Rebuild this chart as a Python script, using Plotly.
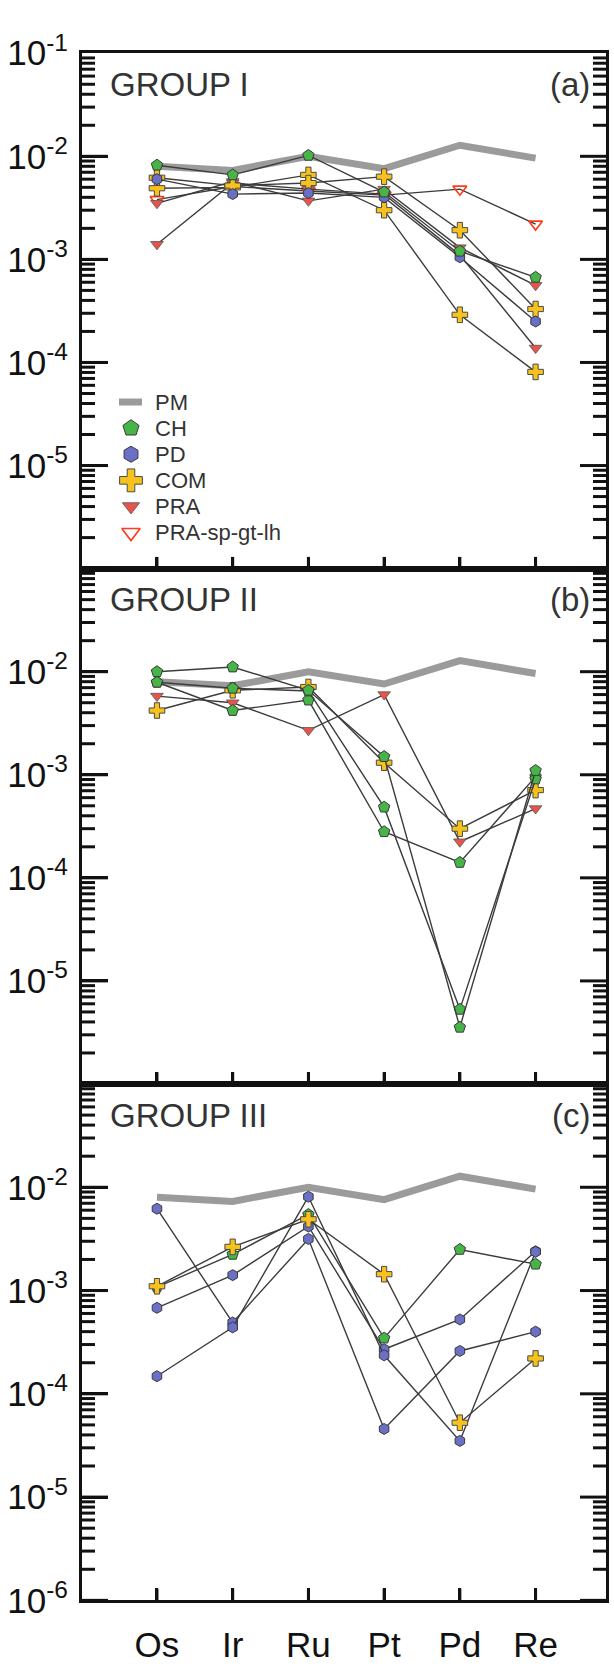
import math
import plotly.graph_objects as go

# Elements along the x axis
elements = ["Os", "Ir", "Ru", "Pt", "Pd", "Re"]

# Primitive mantle reference pattern (drawn in every panel)
pm = [8.0e-3, 7.3e-3, 1.0e-2, 7.6e-3, 1.28e-2, 9.6e-3]

# GROUP I
g1_ch = [8.2e-3, 6.6e-3, 1.02e-2, 4.5e-3, 1.2e-3, 6.7e-4]
g1_pd = [6.0e-3, 4.3e-3, 4.4e-3, 4.0e-3, 1.05e-3, 2.5e-4]
g1_com_1 = [4.9e-3, 5.0e-3, 6.6e-3, 3.0e-3, 2.9e-4, 8.1e-5]
g1_com_2 = [6.2e-3, 5.2e-3, 5.5e-3, 6.35e-3, 1.92e-3, 3.3e-4]
g1_pra_1 = [3.5e-3, 5.7e-3, 3.7e-3, 4.8e-3, 1.3e-3, 5.6e-4]
g1_pra_2 = [1.4e-3, 5.5e-3, 4.8e-3, 4.3e-3, 1.1e-3, 1.38e-4]
g1_pra_sp = [3.8e-3, 5.1e-3, 4.6e-3, 4.2e-3, 4.8e-3, 2.2e-3]

# GROUP II
g2_ch_1 = [1.0e-2, 1.11e-2, 6.6e-3, 1.5e-3, 3.55e-6, 1.1e-3]
g2_ch_2 = [7.9e-3, 6.9e-3, 6.5e-3, 4.85e-4, 5.3e-6, 9.1e-4]
g2_ch_3 = [7.9e-3, 4.2e-3, 5.3e-3, 2.8e-4, 1.41e-4, 9.6e-4]
g2_com = [4.2e-3, 6.6e-3, 7.1e-3, 1.31e-3, 3.0e-4, 7.1e-4]
g2_pra = [5.8e-3, 5.0e-3, 2.7e-3, 6.0e-3, 2.24e-4, 4.7e-4]

# GROUP III
g3_ch = [1.08e-3, 2.24e-3, 5.45e-3, 3.46e-4, 2.5e-3, 1.8e-3]
g3_pd_1 = [6.2e-3, 4.9e-4, 3.16e-3, 4.57e-5, 2.6e-4, 4.0e-4]
g3_pd_2 = [6.8e-4, 1.41e-3, 4.17e-3, 2.7e-4, 5.25e-4, 2.4e-3]
g3_pd_3 = [1.48e-4, 4.4e-4, 8.1e-3, 2.36e-4, 3.5e-5, 2.37e-3]
g3_com = [1.1e-3, 2.65e-3, 4.9e-3, 1.44e-3, 5.25e-5, 2.2e-4]

# Panel titles, tags and which decades carry a label
panel_labels = [
    ("GROUP I", "(a)", [-5, -4, -3, -2, -1]),
    ("GROUP II", "(b)", [-5, -4, -3, -2]),
    ("GROUP III", "(c)", [-6, -5, -4, -3, -2]),
]

# Legend entries (key order)
legend_names = ["PM", "CH", "PD", "COM", "PRA", "PRA-sp-gt-lh"]

FONT = "Liberation Sans, Arial, sans-serif"
W, H = 614, 1671
INK = "#111111"
LOG_MIN, LOG_MAX = -6, -1

# marker styles per rock type
styles = {
    "CH": dict(symbol="pentagon", color="#46b447", size=12, line=dict(color="#3a3a3a", width=1)),
    "PD": dict(symbol="hexagon", color="#6a70c6", size=11, line=dict(color="#3a3a3a", width=1)),
    "COM": dict(symbol="cross", color="#f7c21b", size=13, line=dict(color="#4a4a4a", width=1)),
    "PRA": dict(symbol="triangle-down", color="#e8544c", size=11, line=dict(color="#555555", width=0.8)),
    "PRA-sp-gt-lh": dict(symbol="triangle-down-open", color="#ff3b1c", size=12,
                         line=dict(color="#ff3b1c", width=1.6)),
}
legend_sizes = {"CH": 17, "PD": 16, "COM": 19, "PRA": 15, "PRA-sp-gt-lh": 16}

panels = [
    [("PRA-sp-gt-lh", g1_pra_sp), ("PRA", g1_pra_1), ("PRA", g1_pra_2), ("COM", g1_com_1),
     ("COM", g1_com_2), ("PD", g1_pd), ("CH", g1_ch)],
    [("PRA", g2_pra), ("COM", g2_com), ("CH", g2_ch_3), ("CH", g2_ch_2), ("CH", g2_ch_1)],
    [("PD", g3_pd_1), ("PD", g3_pd_2), ("PD", g3_pd_3), ("CH", g3_ch), ("COM", g3_com)],
]

# pixel layout of the three stacked panels
x_left, x_right = 82, 606
y_edges = [30, 559, 1088, 1618]
x_range = [-0.99, 5.93]
MAJOR_LEN, MINOR_LEN, X_TICK_LEN = 26, 13, 12

fig = go.Figure()

for i, series in enumerate(panels):
    ax = "" if i == 0 else str(i + 1)
    xa, ya = "x" + ax, "y" + ax
    fig.add_trace(go.Scatter(x=elements, y=pm, mode="lines", xaxis=xa, yaxis=ya,
                             line=dict(color="#9b9b9b", width=7), showlegend=False,
                             hoverinfo="skip"))
    for kind, vals in series:
        st = styles[kind]
        fig.add_trace(go.Scatter(
            x=elements, y=vals, mode="lines+markers", xaxis=xa, yaxis=ya,
            line=dict(color="#3c3c3c", width=1.4),
            marker=dict(symbol=st["symbol"], color=st["color"], size=st["size"], line=st["line"]),
            showlegend=False, name=kind))

# Tick marks (log comb on both vertical edges, element ticks on the bottom edge),
# laid out on a page-pixel overlay axis.
tx, ty = [], []
for i in range(3):
    top, bot = y_edges[i], y_edges[i + 1]
    for e in range(LOG_MIN, LOG_MAX):
        for k in range(1, 10):
            lv = e + math.log10(k)
            yp = top + (LOG_MAX - lv) / (LOG_MAX - LOG_MIN) * (bot - top)
            ln = MAJOR_LEN if k == 1 else MINOR_LEN
            tx += [x_left, x_left + ln, None, x_right - ln, x_right, None]
            ty += [yp, yp, None, yp, yp, None]
    for j in range(len(elements)):
        xp = x_left + (j - x_range[0]) / (x_range[1] - x_range[0]) * (x_right - x_left)
        tx += [xp, xp, None]
        ty += [bot, bot - X_TICK_LEN, None]
fig.add_trace(go.Scatter(x=tx, y=ty, mode="lines", xaxis="x4", yaxis="y4",
                         line=dict(color=INK, width=3), showlegend=False,
                         hoverinfo="skip", connectgaps=False))

# key drawn inside panel (a) on the same pixel overlay
key_x, key_text_x, key_y0, key_dy = 131, 153, 388, 26.8
key_rows = [key_y0 + key_dy * k for k in range(len(legend_names))]
fig.add_trace(go.Scatter(x=[key_x - 12, key_x + 11], y=[key_rows[0]] * 2, mode="lines",
                         xaxis="x4", yaxis="y4", line=dict(color="#9b9b9b", width=7),
                         showlegend=False, hoverinfo="skip"))
for name, yk in zip(legend_names[1:], key_rows[1:]):
    st = styles[name]
    fig.add_trace(go.Scatter(x=[key_x], y=[yk], mode="markers", xaxis="x4", yaxis="y4",
                             marker=dict(symbol=st["symbol"], color=st["color"],
                                         size=legend_sizes[name], line=st["line"]),
                             showlegend=False, hoverinfo="skip"))

layout = dict(
    width=W, height=H, margin=dict(l=0, r=0, t=0, b=0),
    paper_bgcolor="white", plot_bgcolor="rgba(0,0,0,0)",
    font=dict(family=FONT, color="#1a1a1a"),
    showlegend=False,
    annotations=[],
    xaxis4=dict(domain=[0, 1], anchor="y4", range=[0, W], visible=False, fixedrange=True),
    yaxis4=dict(domain=[0, 1], anchor="x4", range=[H, 0], visible=False, fixedrange=True),
)

for name, yk in zip(legend_names, key_rows):
    layout["annotations"].append(dict(text=name, x=key_text_x, y=yk, xref="x4", yref="y4",
                                      xanchor="left", yanchor="middle", showarrow=False,
                                      font=dict(size=22, color="#333333", family=FONT)))

for i, (title, tag, shown) in enumerate(panel_labels):
    ax = "" if i == 0 else str(i + 1)
    top, bot = y_edges[i], y_edges[i + 1]
    dom_y = [1 - bot / H, 1 - top / H]
    dom_x = [x_left / W, x_right / W]
    layout["xaxis" + ax] = dict(
        domain=dom_x, anchor="y" + ax, type="category", range=x_range,
        showline=True, linecolor=INK, linewidth=3, mirror=True,
        ticks="inside", ticklen=X_TICK_LEN, tickwidth=3, tickcolor=INK,
        showgrid=False, zeroline=False, fixedrange=True,
        showticklabels=(i == 2), tickfont=dict(size=35, color=INK),
        ticklabelstandoff=12,
    )
    layout["yaxis" + ax] = dict(
        domain=dom_y, anchor="x" + ax, type="log", range=[LOG_MIN, LOG_MAX],
        showline=True, linecolor=INK, linewidth=3, mirror=True,
        ticks="inside", ticklen=MAJOR_LEN, tickwidth=3, tickcolor=INK,
        tickmode="array", tickvals=[10.0 ** d for d in shown],
        ticktext=["10<sup>%d</sup>" % d for d in shown],
        tickfont=dict(size=35, color=INK), ticklabelstandoff=4,
        showgrid=False, zeroline=False, fixedrange=True,
    )
    yc = 1 - (top + 32) / H
    layout["annotations"].append(dict(text=title, x=108 / W, y=yc, xref="paper", yref="paper",
                                      xanchor="left", yanchor="middle", showarrow=False,
                                      font=dict(size=33, color="#333333", family=FONT)))
    layout["annotations"].append(dict(text=tag, x=592 / W, y=yc, xref="paper", yref="paper",
                                      xanchor="right", yanchor="middle", showarrow=False,
                                      font=dict(size=33, color="#333333", family=FONT)))

fig.update_layout(**layout)
fig.write_html("out.html")
